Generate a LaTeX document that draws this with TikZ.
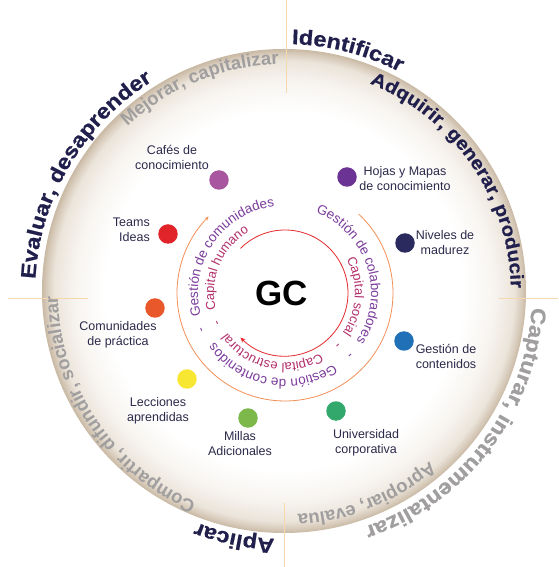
\documentclass[tikz,border=0pt]{standalone}
\usepackage{fontspec}
\setmainfont{Liberation Sans}
\newfontfamily\heavyfont[FakeStretch=1.12, BoldFeatures={FakeBold=0.6}]{Liberation Sans}
\usetikzlibrary{decorations.text,arrows.meta}
\definecolor{cNavy}{HTML}{211F4C}
\definecolor{cGrey}{HTML}{A09E9E}
\definecolor{cLabel}{HTML}{2C2A4A}
\definecolor{cPurple}{HTML}{7B3C9C}
\definecolor{cMagenta}{HTML}{B3306C}
\definecolor{cOrange}{HTML}{F39058}
\definecolor{cRed}{HTML}{E52A2F}
\definecolor{cCross}{HTML}{F6D8AE}
\definecolor{cRimA}{HTML}{F8F5F1}
\definecolor{cRimB}{HTML}{EBE4DA}
\definecolor{cRimC}{HTML}{D6C9B8}
\definecolor{cRimD}{HTML}{C9B9A4}
\definecolor{dCafe}{HTML}{A8569F}
\definecolor{dTeams}{HTML}{E0242A}
\definecolor{dHojas}{HTML}{6B3393}
\definecolor{dNiveles}{HTML}{2B2A5E}
\definecolor{dComun}{HTML}{E9582B}
\definecolor{dLecc}{HTML}{F7E733}
\definecolor{dMillas}{HTML}{7DB84A}
\definecolor{dUniv}{HTML}{33A86D}
\definecolor{dGest}{HTML}{1F70B6}
\pgfdeclareradialshading{discshade}{\pgfpoint{0bp}{0bp}}{color(0bp)=(white); color(18.5bp)=(white); color(21.5bp)=(cRimA); color(23.8bp)=(cRimB); color(24.6bp)=(cRimC); color(25bp)=(cRimD); color(50bp)=(cRimD)}
\newcommand{\ringtext}[5]{%
  \path[decorate, decoration={text along path, text align=center, text={|#4|#5}}]
    ({#1+#3}:#2) arc[start angle={#1+#3}, end angle={#1-#3}, radius=#2];}
\newcommand{\heavyfmt}[2]{\heavyfont\bfseries\fontsize{#1}{#1}\selectfont\color{#2}}
\newcommand{\boldfmt}[2]{\bfseries\fontsize{#1}{#1}\selectfont\color{#2}}
\newcommand{\ringfmt}[2]{\fontsize{#1}{#1}\selectfont\color{#2}}
\begin{document}
\begin{tikzpicture}[x=1pt,y=1pt,
  dotn/.style={circle, minimum size=19.5pt, inner sep=0pt},
  lab/.style={font=\fontsize{12.5}{15}\selectfont, text=cLabel, align=center, inner sep=0pt},
  crossln/.style={draw=cCross, line width=0.7pt},
  redarc/.style={draw=cRed, line width=0.8pt},
  orangearc/.style={draw=cOrange, line width=0.8pt},
  dashmark/.style={inner sep=0pt, font=\fontsize{13}{13}\selectfont}]
\useasboundingbox (-285,-274) rectangle (273,293);
\fill[white] (-285,-274) rectangle (273,293);
% disc
\shade[shading=discshade] (-1,2) circle[radius=242];
% cross lines
\coordinate (t1) at (1,293); \coordinate (t2) at (1,200);
\coordinate (l1) at (-277,-5); \coordinate (l2) at (-197,-5);
\coordinate (r1) at (214,-5); \coordinate (r2) at (273,-5);
\coordinate (b1) at (-1,-210); \coordinate (b2) at (-1,-274);
\draw[crossln] (t1) -- (t2);
\draw[crossln] (l1) -- (l2);
\draw[crossln] (r1) -- (r2);
\draw[crossln] (b1) -- (b2);
% outer texts
\ringtext{149.4}{250}{80}{\heavyfmt{21}{cNavy}}{Evaluar, desaprender}
\ringtext{75.5}{249}{40}{\heavyfmt{21}{cNavy}}{Identificar}
\ringtext{34.6}{226}{70}{\heavyfmt{18.5}{cNavy}}{Adquirir, generar, producir}
\ringtext{112.5}{229}{50}{\boldfmt{18.5}{cGrey}}{Mejorar, capitalizar}
\ringtext{-37.3}{247}{70}{\heavyfmt{21}{cGrey}}{Capturar, instrumentalizar}
\ringtext{-68}{222}{40}{\boldfmt{18.5}{cGrey}}{Apropiar, evalua}
\ringtext{-101.7}{246}{30}{\heavyfmt{21}{cNavy}}{Aplicar}
\ringtext{213.9}{227}{70}{\boldfmt{18.5}{cGrey}}{Compartir, difundir, socializar}
% inner arcs
\draw[redarc, -{Stealth[length=5pt,width=4.5pt]}] (135:63) arc[start angle=135, end angle=-135, radius=63];
\draw[orangearc, -{Stealth[length=4pt,width=3.5pt]}] (47:108) arc[start angle=47, end angle=-225, radius=108];
% ring texts
\ringtext{146}{87}{70}{\ringfmt{13.5}{cPurple}}{Gestión de comunidades}
\ringtext{157}{71}{50}{\ringfmt{13}{cMagenta}}{Capital humano}
\ringtext{17.5}{86}{70}{\ringfmt{13.5}{cPurple}}{Gestión de colaboradores}
\ringtext{-3}{70}{45}{\ringfmt{13}{cMagenta}}{Capital social}
\ringtext{-100.3}{86}{65}{\ringfmt{13.5}{cPurple}}{Gestión de contenidos}
\ringtext{-102.5}{70}{60}{\ringfmt{13}{cMagenta}}{Capital estructural}
% separators
\node[dashmark, text=cMagenta, rotate=-135] (s1) at (-45:73) {-};
\node[dashmark, text=cPurple, rotate=-135] (s2) at (-44:89) {-};
\node[dashmark, text=cMagenta, rotate=114] (s3) at (204:73) {-};
\node[dashmark, text=cPurple, rotate=114] (s4) at (204:90) {-};
% center
\node[font=\bfseries\fontsize{35}{35}\selectfont, inner sep=0pt] (gc) at (-3,0) {GC};
% dots
\node[dotn, fill=dCafe] (cafe) at (-66,113) {};
\node[dotn, fill=dTeams] (teams) at (-117,59) {};
\node[dotn, fill=dHojas] (hojas) at (62,116) {};
\node[dotn, fill=dNiveles] (niveles) at (120,50) {};
\node[dotn, fill=dComun] (comun) at (-130,-15) {};
\node[dotn, fill=dLecc] (lecc) at (-98,-86) {};
\node[dotn, fill=dMillas] (millas) at (-37,-125) {};
\node[dotn, fill=dUniv] (univ) at (51,-118) {};
\node[dotn, fill=dGest] (gest) at (119,-48) {};
% labels
\node[lab] (cafeL) at (-113,136) {Cafés de\\conocimiento};
\node[lab, align=right, anchor=east] (teamsL) at (-135,63) {Teams\\Ideas};
\node[lab] (hojasL) at (120,114) {Hojas y Mapas\\de conocimiento};
\node[lab] (nivelesL) at (160,50) {Niveles de\\madurez};
\node[lab] (comunL) at (-167,-42) {Comunidades\\de práctica};
\node[lab] (leccL) at (-127,-118) {Lecciones\\aprendidas};
\node[lab] (millasL) at (-45,-151) {Millas\\Adicionales};
\node[lab] (univL) at (81,-150) {Universidad\\corporativa};
\node[lab] (gestL) at (161,-63) {Gestión de\\contenidos};
\end{tikzpicture}
\end{document}
